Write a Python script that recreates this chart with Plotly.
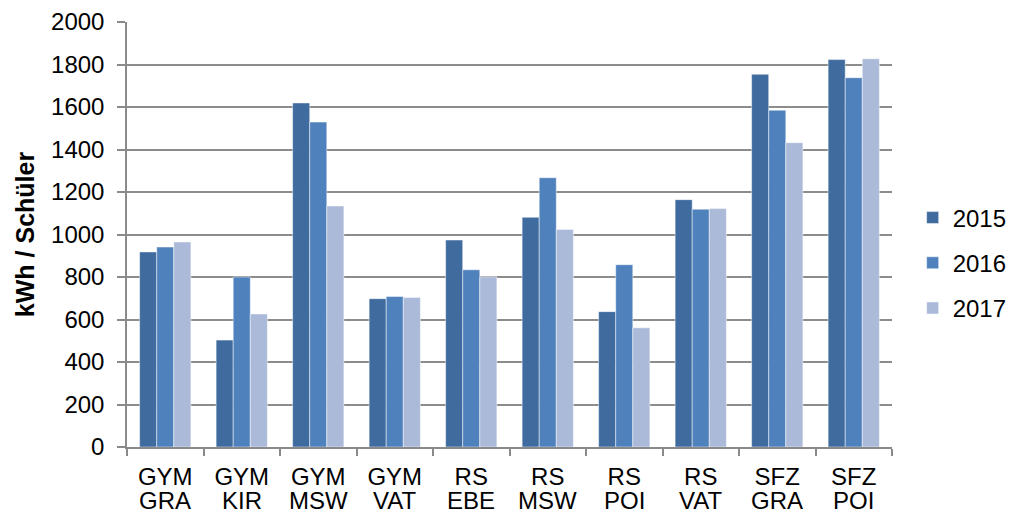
import plotly.graph_objects as go

categories = ["GYM GRA", "GYM KIR", "GYM MSW", "GYM VAT", "RS EBE",
              "RS MSW", "RS POI", "RS VAT", "SFZ GRA", "SFZ POI"]
label_line1 = ["GYM", "GYM", "GYM", "GYM", "RS", "RS", "RS", "RS", "SFZ", "SFZ"]
label_line2 = ["GRA", "KIR", "MSW", "VAT", "EBE", "MSW", "POI", "VAT", "GRA", "POI"]
series_names = ["2015", "2016", "2017"]
values_2015 = [918, 503, 1619, 698, 974, 1081, 637, 1164, 1754, 1823]
values_2016 = [941, 800, 1529, 708, 834, 1267, 858, 1119, 1585, 1738]
values_2017 = [965, 626, 1134, 704, 801, 1024, 561, 1122, 1432, 1827]
y_ticks = [0, 200, 400, 600, 800, 1000, 1200, 1400, 1600, 1800, 2000]

colors = ["#3F6B9F", "#4F81BD", "#AABAD8"]
all_values = [values_2015, values_2016, values_2017]

fig = go.Figure()
for i, (name, vals) in enumerate(zip(series_names, all_values)):
    fig.add_trace(go.Bar(
        x=categories, y=vals, name=name,
        marker=dict(color=colors[i], line=dict(color="rgba(255,255,255,0.6)", width=0.8)),
        legendgroup=name,
    ))

font_family = "Liberation Sans, Arial, sans-serif"
FS = 24

for cat, txt in zip(categories, label_line2):
    fig.add_annotation(x=cat, y=0, xref="x", yref="y", text=txt, showarrow=False,
                       yanchor="top", yshift=-39, borderpad=0,
                       font=dict(size=FS, color="black"))

fig.update_layout(
    width=1018, height=513,
    margin=dict(l=127, r=126, t=22, b=66, autoexpand=False),
    paper_bgcolor="white", plot_bgcolor="white",
    barmode="group", bargap=0.33, bargroupgap=0,
    font=dict(family=font_family, size=FS, color="black"),
    showlegend=True,
    legend=dict(x=1.027, y=0.433, yanchor="middle", xanchor="left",
                font=dict(size=FS), traceorder="grouped", tracegroupgap=11,
                itemwidth=30),
    xaxis=dict(
        type="category", tickson="boundaries", ticks="outside", ticklen=7,
        tickcolor="#8a8a8a", tickwidth=1.5, automargin=False,
        tickvals=categories, ticktext=label_line1, ticklabelstandoff=7,
        showline=True, linecolor="#8a8a8a", linewidth=1.5,
        showgrid=False, tickfont=dict(size=FS),
    ),
    yaxis=dict(
        range=[0, 2000], tickvals=y_ticks, ticks="outside", ticklen=8,
        tickcolor="#8a8a8a", tickwidth=1.5, automargin=False,
        ticklabelstandoff=8,
        showline=True, linecolor="#8a8a8a", linewidth=1.5,
        showgrid=True, gridcolor="#8c8c8c", gridwidth=1.5,
        zeroline=False, tickfont=dict(size=FS),
        title=dict(text="<b>kWh / Schüler</b>", font=dict(size=25), standoff=9),
    ),
)

fig.write_html("out.html", config={"displayModeBar": False},
               post_script="document.body.style.margin='0';document.body.style.overflow='hidden';")
